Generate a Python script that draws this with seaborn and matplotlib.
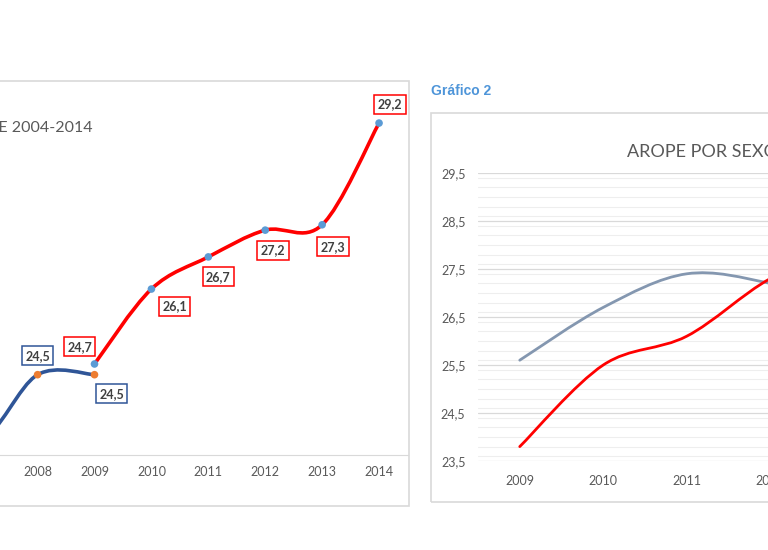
import numpy as np
import matplotlib
matplotlib.use("Agg")
import matplotlib.pyplot as plt
import seaborn as sns
from matplotlib.path import Path
from matplotlib.patches import PathPatch, Rectangle
from matplotlib.ticker import MultipleLocator, FixedLocator

# --- datos ---
anios_base04 = [2004, 2005, 2006, 2007, 2008, 2009]
arope_base04 = [24.4, 24.3, 24.0, 23.3, 24.5, 24.5]
anios_base13 = [2009, 2010, 2011, 2012, 2013, 2014]
arope_base13 = [24.7, 26.1, 26.7, 27.2, 27.3, 29.2]
anios_visibles = [2008, 2009, 2010, 2011, 2012, 2013, 2014]

anios_sexo = [2009, 2010, 2011, 2012, 2013, 2014]
anios_sexo_visibles = [2009, 2010, 2011, 2012]
arope_hombres = [23.8, 25.5, 26.1, 27.3, 28.0, 29.4]
arope_mujeres = [25.6, 26.7, 27.4, 27.2, 26.7, 29.0]
ticks_y_sexo = [23.5, 24.5, 25.5, 26.5, 27.5, 28.5, 29.5]

# desplazamiento de las etiquetas (pixeles, y hacia abajo); None = fuera de la vista
off_base04 = [None, None, None, None, (0, -19), (17, 19)]
off_base13 = [(-15, -17), (23, 17), (10, 20), (8, 20), (11, 22), (11, -19)]

W, H = 768, 550
GRIS = "#595959"


def caja(x0, y0, x1, y1):
    return [x0 / W, 1 - y1 / H, (x1 - x0) / W, (y1 - y0) / H]


def curva_suave(xs, ys):
    # linea suavizada tipo Excel (bezier con tangentes catmull-rom)
    p = np.column_stack([xs, ys]).astype(float)
    n = len(p)
    verts = [p[0]]
    codes = [Path.MOVETO]
    for i in range(n - 1):
        c1 = p[i] + (p[i + 1] - p[max(i - 1, 0)]) / 6
        c2 = p[i + 1] - (p[min(i + 2, n - 1)] - p[i]) / 6
        verts += [c1, c2, p[i + 1]]
        codes += [Path.CURVE4] * 3
    return Path(verts, codes)


def fmt(v):
    return f"{v:.1f}".replace(".", ",")


def etiquetas(ax, xs, ys, offs, borde):
    for x, y, off in zip(xs, ys, offs):
        if off is None:
            continue
        dx, dy = off
        ax.annotate(fmt(y), (x, y), xytext=(dx, -dy), textcoords="offset pixels",
                    ha="center", va="center", fontsize=9, fontweight="bold", color="#404040",
                    bbox=dict(boxstyle="square,pad=0.28", fc="white", ec=borde, lw=1.1), zorder=5)


sns.set_style("white")
plt.rcParams["font.family"] = ["Lato", "DejaVu Sans"]

fig = plt.figure(figsize=(W / 100, H / 100), dpi=100)
fig.patch.set_facecolor("white")

# marcos de los graficos
fig.add_artist(Rectangle((-20 / W, 1 - 506 / H), 429 / W, 425 / H, transform=fig.transFigure,
                         fill=False, ec="#D9D9D9", lw=1.2))
fig.add_artist(Rectangle((431 / W, 1 - 502 / H), 400 / W, 389 / H, transform=fig.transFigure,
                         fill=False, ec="#D9D9D9", lw=1.2))

# ---------- Grafico 1 ----------
ax1 = fig.add_axes(caja(-218.5, 107, 407.5, 455))
ax1.patch.set_alpha(0)
ax1.set_xlim(2003.5, 2014.5)
ax1.set_ylim(23.0, 29.5)
for s in ["left", "right", "top"]:
    ax1.spines[s].set_visible(False)
ax1.spines["bottom"].set_color("#D9D9D9")
ax1.set_xticks(anios_visibles)
ax1.set_yticks([])
ax1.tick_params(axis="x", length=0, pad=8, labelsize=9, labelcolor=GRIS)

ax1.add_patch(PathPatch(curva_suave(anios_base04, arope_base04), fill=False,
                        ec="#2F5597", lw=2.6, capstyle="round", joinstyle="round", zorder=2))
ax1.add_patch(PathPatch(curva_suave(anios_base13, arope_base13), fill=False,
                        ec="#FF0000", lw=2.6, capstyle="round", joinstyle="round", zorder=2))
sns.scatterplot(x=anios_base04, y=arope_base04, ax=ax1, color="#ED7D31", s=30,
                edgecolor="none", zorder=3, clip_on=False)
sns.scatterplot(x=anios_base13, y=arope_base13, ax=ax1, color="#5B9BD5", s=30,
                edgecolor="none", zorder=3, clip_on=False)

etiquetas(ax1, anios_base04, arope_base04, off_base04, "#2F5597")
etiquetas(ax1, anios_base13, arope_base13, off_base13, "#FF0000")

fig.text(93 / W, 1 - 128 / H, "TASA AROPE 2004-2014", ha="right", va="center",
         fontsize=11.5, color=GRIS)

# ---------- Grafico 2 ----------
fig.text(431 / W, 1 - 91 / H, "Gráfico 2", ha="left", va="center", fontsize=10,
         fontweight="bold", color="#4E95D9", family=["Liberation Sans", "DejaVu Sans"])
fig.text(627 / W, 1 - 152 / H, "AROPE POR SEXO 2009-2014", ha="left", va="center",
         fontsize=13, color=GRIS)

ax2 = fig.add_axes(caja(478, 173, 979, 461))
ax2.patch.set_alpha(0)
ax2.set_xlim(2008.5, 2014.5)
ax2.set_ylim(23.5, 29.5)
for s in ax2.spines.values():
    s.set_visible(False)
ax2.set_xticks(anios_sexo_visibles)
ax2.yaxis.set_major_locator(FixedLocator(ticks_y_sexo))
ax2.yaxis.set_minor_locator(MultipleLocator(0.2))
ax2.set_yticklabels([fmt(t) for t in ticks_y_sexo])
ax2.grid(which="major", axis="y", color="#D9D9D9", lw=0.9)
ax2.grid(which="minor", axis="y", color="#EEEEEE", lw=0.8)
ax2.set_axisbelow(True)
ax2.tick_params(axis="both", which="both", length=0, labelsize=9, labelcolor=GRIS)
ax2.tick_params(axis="x", pad=10)
ax2.tick_params(axis="y", pad=9)

ax2.add_patch(PathPatch(curva_suave(anios_sexo, arope_mujeres), fill=False,
                        ec="#8497B0", lw=2.0, capstyle="round", zorder=2))
ax2.add_patch(PathPatch(curva_suave(anios_sexo, arope_hombres), fill=False,
                        ec="#FF0000", lw=2.0, capstyle="round", zorder=2))

fig.savefig("out.png", dpi=100, facecolor="white")
